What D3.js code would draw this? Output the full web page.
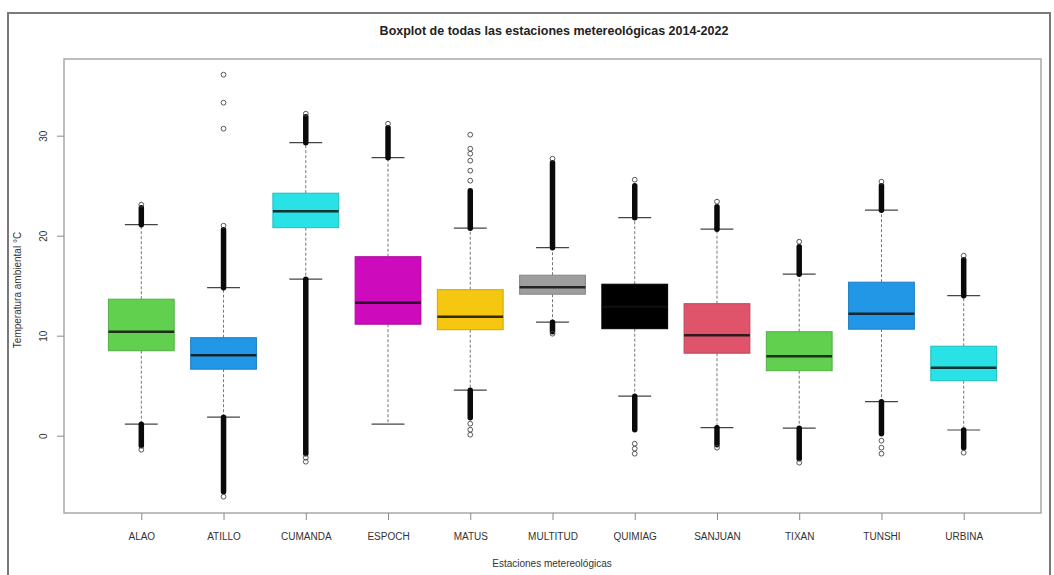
<!DOCTYPE html>
<html>
<head>
<meta charset="utf-8">
<script src="https://cdn.jsdelivr.net/npm/d3@7"></script>
<style>
  html, body { margin: 0; padding: 0; background: #fff; }
  svg { display: block; font-family: "Liberation Sans", Arial, sans-serif; }
</style>
</head>
<body>
<svg id="chart" width="1054" height="575"></svg>
<script>
// ---- data ----
const stations   = ["ALAO","ATILLO","CUMANDA","ESPOCH","MATUS","MULTITUD","QUIMIAG","SANJUAN","TIXAN","TUNSHI","URBINA"];
const boxColors  = ["#61D04F","#2297E6","#28E2E5","#CD0BBC","#F5C710","#9E9E9E","#000000","#DF536B","#61D04F","#2297E6","#28E2E5"];
const whiskerLow = [1.15, 1.85, 15.65, 1.15, 4.55, 11.35, 3.95, 0.8, 0.75, 3.4, 0.57];
const q1         = [8.5, 6.65, 20.8, 11.15, 10.6, 14.15, 10.7, 8.25, 6.5, 10.65, 5.5];
const medians    = [10.4, 8.05, 22.45, 13.3, 11.9, 14.85, 12.9, 10.05, 7.95, 12.2, 6.8];
const q3         = [13.65, 9.8, 24.25, 17.9, 14.6, 16.05, 15.15, 13.2, 10.4, 15.35, 8.95];
const whiskerHigh= [21.1, 14.8, 29.3, 27.8, 20.75, 18.8, 21.8, 20.65, 16.15, 22.55, 14.0];
// dense runs of outliers: [from, to]
const denseHigh  = [[21.1,22.8],[14.8,20.6],[29.3,31.9],[27.8,30.8],[20.75,24.5],[18.8,27.3],[21.8,25.0],[20.65,22.9],[16.15,18.9],[22.55,25.0],[14.0,17.6]];
const denseLow   = [[1.15,-1.0],[1.85,-5.6],[15.65,-1.8],null,[4.55,1.8],[11.35,10.4],[3.95,0.6],[0.8,-0.9],[0.75,-2.3],[3.4,0.2],[0.57,-1.2]];
// isolated outliers: [station index, value]
const singleOutliers = [
  [0,23.1],[0,-1.4],
  [1,21.0],[1,30.7],[1,33.3],[1,36.1],[1,-6.1],
  [2,32.2],[2,-2.2],[2,-2.6],
  [3,31.2],
  [4,25.5],[4,26.5],[4,27.5],[4,28.2],[4,28.7],[4,30.1],[4,1.2],[4,0.6],[4,0.1],
  [5,27.7],[5,10.2],
  [6,25.6],[6,-0.8],[6,-1.3],[6,-1.8],
  [7,23.4],[7,-1.2],
  [8,19.4],[8,-2.7],
  [9,25.4],[9,-0.5],[9,-1.2],[9,-1.8],
  [10,18.0],[10,-1.7]
];
const yTicks = [0, 10, 20, 30];
const titleText = "Boxplot de todas las estaciones metereológicas 2014-2022";
const xTitle = "Estaciones metereológicas";
const yTitle = "Temperatura ambiental °C";

// ---- layout ----
const svg = d3.select("#chart");
const plot = {left: 64, right: 1041, top: 59, bottom: 513};

const x = d3.scaleLinear().domain([0.06, 11.94]).range([plot.left, plot.right]);
const y = d3.scaleLinear().domain([-7.73, 37.67]).range([plot.bottom, plot.top]);

// outer frame
svg.append("rect").attr("x", 8).attr("y", 13).attr("width", 1042).attr("height", 620)
  .attr("fill", "none").attr("stroke", "#7a7a7a").attr("stroke-width", 2);

// title
svg.append("text").attr("x", 554).attr("y", 35).attr("text-anchor", "middle")
  .attr("font-size", 12.5).attr("font-weight", "bold").attr("fill", "#222")
  .text(titleText);

const boxHalf = 0.4 * (x(2) - x(1));
const stapleHalf = 0.2 * (x(2) - x(1));

const g = svg.append("g");

stations.forEach((s, i) => {
  const cx = x(i + 1);
  // whiskers (dashed)
  g.append("line").attr("x1", cx).attr("x2", cx).attr("y1", y(q3[i])).attr("y2", y(whiskerHigh[i]))
    .attr("stroke", "#777").attr("stroke-width", 1).attr("stroke-dasharray", "3,2");
  g.append("line").attr("x1", cx).attr("x2", cx).attr("y1", y(q1[i])).attr("y2", y(whiskerLow[i]))
    .attr("stroke", "#777").attr("stroke-width", 1).attr("stroke-dasharray", "3,2");
  // staples
  [whiskerHigh[i], whiskerLow[i]].forEach(v => {
    g.append("line").attr("x1", cx - stapleHalf).attr("x2", cx + stapleHalf)
      .attr("y1", y(v)).attr("y2", y(v)).attr("stroke", "#444").attr("stroke-width", 1.2);
  });
  // box
  g.append("rect").attr("x", cx - boxHalf).attr("width", 2 * boxHalf)
    .attr("y", y(q3[i])).attr("height", y(q1[i]) - y(q3[i]))
    .attr("fill", boxColors[i])
    .attr("stroke", d3.color(boxColors[i]).darker(0.5)).attr("stroke-width", 1);
  // median
  g.append("line").attr("x1", cx - boxHalf).attr("x2", cx + boxHalf)
    .attr("y1", y(medians[i])).attr("y2", y(medians[i]))
    .attr("stroke", "#111").attr("stroke-width", 2.6).attr("opacity", 0.85);
  // dense outlier runs
  [denseHigh[i], denseLow[i]].forEach(r => {
    if (!r) return;
    g.append("line").attr("x1", cx).attr("x2", cx).attr("y1", y(r[0])).attr("y2", y(r[1]))
      .attr("stroke", "#0a0a0a").attr("stroke-width", 5.5).attr("stroke-linecap", "round");
  });
});

// isolated outliers
g.selectAll("circle.out").data(singleOutliers).join("circle")
  .attr("class", "out")
  .attr("cx", d => x(d[0] + 1)).attr("cy", d => y(d[1])).attr("r", 2.4)
  .attr("fill", "none").attr("stroke", "#444").attr("stroke-width", 0.9);

// plot box
svg.append("rect").attr("x", plot.left).attr("y", plot.top)
  .attr("width", plot.right - plot.left).attr("height", plot.bottom - plot.top)
  .attr("fill", "none").attr("stroke", "#a8a8a8").attr("stroke-width", 1.5);

// y axis
const yAxis = svg.append("g").attr("transform", `translate(${plot.left},0)`)
  .call(d3.axisLeft(y).tickValues(yTicks).tickSize(7).tickPadding(12));
yAxis.select(".domain").remove();
yAxis.selectAll(".tick line").attr("stroke", "#888");
yAxis.selectAll(".tick text")
  .attr("font-size", 10).attr("fill", "#333").attr("font-family", "Liberation Sans, Arial, sans-serif")
  .attr("text-anchor", "middle").attr("dy", null)
  .attr("transform", "rotate(-90)")
  .attr("x", 0).attr("y", -17);

// x axis
const xAxis = svg.append("g").attr("transform", `translate(0,${plot.bottom})`)
  .call(d3.axisBottom(x).tickValues(d3.range(1, stations.length + 1))
    .tickFormat(d => stations[d - 1]).tickSize(7).tickPadding(13));
xAxis.select(".domain").remove();
xAxis.selectAll(".tick line").attr("stroke", "#888");
xAxis.selectAll(".tick text")
  .attr("font-size", 10).attr("fill", "#333").attr("font-family", "Liberation Sans, Arial, sans-serif");

// axis titles
svg.append("text").attr("x", 552).attr("y", 567).attr("text-anchor", "middle")
  .attr("font-size", 10).attr("fill", "#333").text(xTitle);
svg.append("text").attr("transform", "translate(21,290) rotate(-90)").attr("text-anchor", "middle")
  .attr("font-size", 10).attr("fill", "#333").text(yTitle);
</script>
</body>
</html>
